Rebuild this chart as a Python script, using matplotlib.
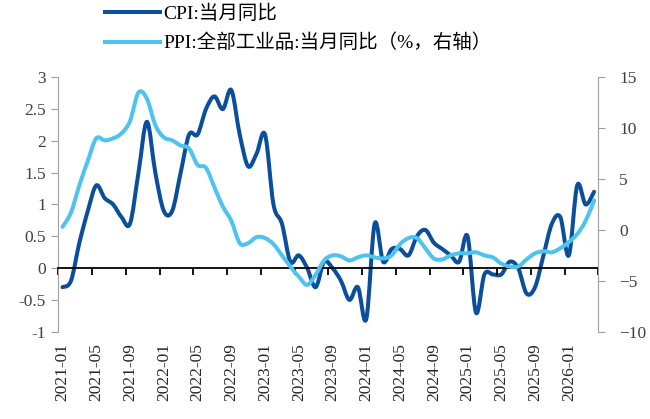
import numpy as np
import matplotlib
matplotlib.use('Agg')
import matplotlib.pyplot as plt
from matplotlib.path import Path
from matplotlib.patches import PathPatch
from matplotlib.lines import Line2D

plt.rcParams['font.family'] = ['Liberation Serif', 'Noto Sans CJK SC']

# monthly data 2021-01 .. 2026-04
months = ['%d-%02d' % (y, m) for y in range(2021, 2027) for m in range(1, 13)][:64]

cpi = [-0.3, -0.2, 0.4, 0.9, 1.3, 1.1, 1.0, 0.8, 0.7, 1.5, 2.3, 1.5,
       0.9, 0.9, 1.5, 2.1, 2.1, 2.5, 2.7, 2.5, 2.8, 2.1, 1.6, 1.8,
       2.1, 1.0, 0.7, 0.1, 0.2, 0.0, -0.3, 0.1, 0.0, -0.2, -0.5, -0.3,
       -0.8, 0.7, 0.1, 0.3, 0.3, 0.2, 0.5, 0.6, 0.4, 0.3, 0.2, 0.1,
       0.5, -0.7, -0.1, -0.1, -0.1, 0.1, 0.0, -0.4, -0.3, 0.2, 0.7, 0.8,
       0.2, 1.3, 1.0, 1.2]

ppi = [0.3, 1.7, 4.4, 6.8, 9.0, 8.8, 9.0, 9.5, 10.7, 13.5, 12.9, 10.3,
       9.1, 8.8, 8.3, 8.0, 6.4, 6.1, 4.2, 2.3, 0.9, -1.3, -1.3, -0.7,
       -0.8, -1.4, -2.5, -3.6, -4.6, -5.4, -4.4, -3.0, -2.5, -2.6, -3.0, -2.7,
       -2.5, -2.7, -2.8, -2.5, -1.4, -0.8, -0.8, -1.8, -2.8, -2.9, -2.5, -2.3,
       -2.3, -2.2, -2.5, -2.7, -3.3, -3.6, -3.6, -2.9, -2.3, -2.1, -2.2, -1.8,
       -1.2, -0.4, 0.9, 2.9]

cpi_color = '#0b4f9c'
ppi_color = '#4fc3f0'


def smooth_path(x, y):
    # excel-like smoothed line: cubic bezier through every point
    x = np.asarray(x, float)
    y = np.asarray(y, float)
    pts = np.column_stack([x, y])
    verts = [pts[0]]
    codes = [Path.MOVETO]
    n = len(pts)
    for i in range(n - 1):
        p0 = pts[max(i - 1, 0)]
        p1 = pts[i]
        p2 = pts[i + 1]
        p3 = pts[min(i + 2, n - 1)]
        c1 = p1 + (p2 - p0) / 6.0
        c2 = p2 - (p3 - p1) / 6.0
        verts += [c1, c2, p2]
        codes += [Path.CURVE4] * 3
    return Path(verts, codes)


fig = plt.figure(figsize=(6.5, 4.19), dpi=100)
ax = fig.add_axes([0.0897, 0.2084, 0.8308, 0.6071])
ax2 = ax.twinx()

xs = np.arange(len(months))
ax.add_patch(PathPatch(smooth_path(xs, cpi), fill=False, edgecolor=cpi_color,
                       lw=2.9, capstyle='round', joinstyle='round'))
ax2.add_patch(PathPatch(smooth_path(xs, ppi), fill=False, edgecolor=ppi_color,
                        lw=2.9, capstyle='round', joinstyle='round'))

ax.set_xlim(-0.5, len(months) - 0.5)
ax.set_ylim(-1, 3)
ax2.set_ylim(-10, 15)

ax.set_yticks(np.arange(-1, 3.01, 0.5))
ax.set_yticklabels(['-1', '-0.5', '0', '0.5', '1', '1.5', '2', '2.5', '3'])
ax2.set_yticks(np.arange(-10, 16, 5))

# x axis at zero, tick marks on category boundaries, labels at the bottom
ax.spines['bottom'].set_position(('data', 0))
ax.spines['bottom'].set_color('black')
ax.spines['bottom'].set_linewidth(1.3)
ax.spines['top'].set_visible(False)
ax.spines['right'].set_visible(False)
ax.spines['left'].set_color('#a0a0a0')
for s in ['top', 'bottom', 'left']:
    ax2.spines[s].set_visible(False)
ax2.spines['right'].set_color('#a0a0a0')

ax.set_xticks(xs[::4])
ax.set_xticklabels(months[::4], rotation=90)
ax.set_xticks(np.arange(-0.5, len(months), 4), minor=True)
ax.tick_params(axis='x', which='major', length=0, pad=54, labelsize=12.5,
               colors='#262626')
ax.tick_params(axis='x', which='minor', length=5, width=1.3, color='black',
               direction='out')
ax.tick_params(axis='y', length=5, color='#a0a0a0', labelsize=12.5,
               labelcolor='#404040', pad=4)
ax2.tick_params(axis='y', length=5, color='#a0a0a0', labelsize=12.5,
                labelcolor='#404040', pad=10)

handles = [Line2D([], [], color=cpi_color, lw=2.9),
           Line2D([], [], color=ppi_color, lw=2.9)]
labels = ['CPI:当月同比', 'PPI:全部工业品:当月同比（%，右轴）']
fig.legend(handles, labels, loc='upper left', bbox_to_anchor=(105 / 650, 0.99),
           frameon=False, fontsize=14, borderpad=0, borderaxespad=0,
           handlelength=2.85, handletextpad=0.15, labelspacing=0.58)

fig.savefig('out.png', dpi=100)
